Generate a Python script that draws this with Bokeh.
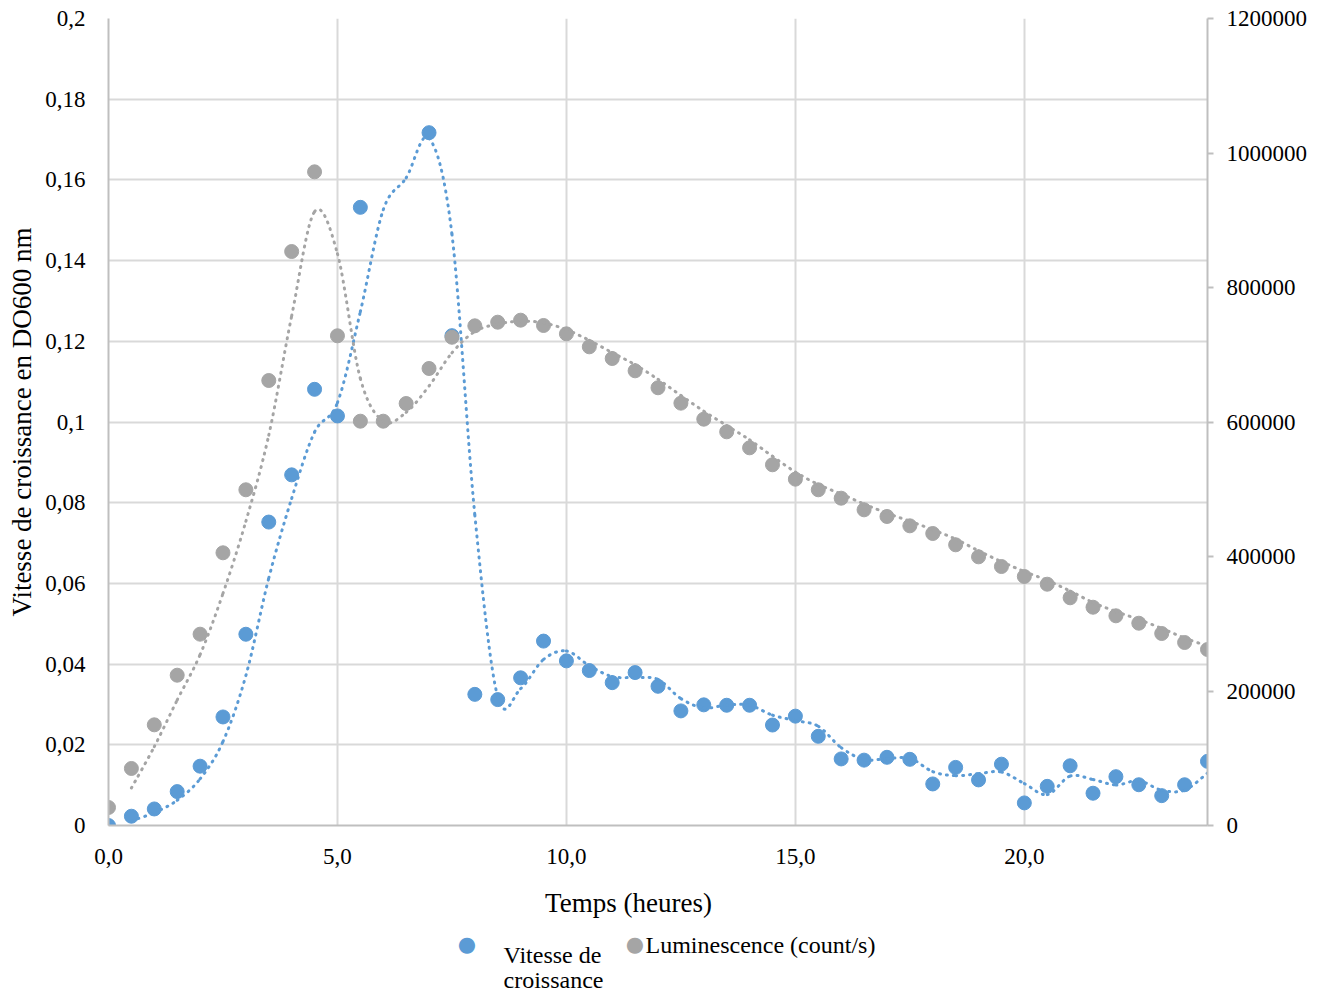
import pandas as pd
from bokeh.plotting import figure
from bokeh.models import Range1d, LinearAxis, FixedTicker
from bokeh.core.properties import value
from bokeh.embed import file_html
from bokeh.resources import INLINE

# ---------------- data ----------------
time_h = [0.0, 0.5, 1.0, 1.5, 2.0, 2.5, 3.0, 3.5, 4.0, 4.5, 5.0, 5.5, 6.0, 6.5, 7.0, 7.5,
          8.0, 8.5, 9.0, 9.5, 10.0, 10.5, 11.0, 11.5, 12.0, 12.5, 13.0, 13.5, 14.0, 14.5,
          15.0, 15.5, 16.0, 16.5, 17.0, 17.5, 18.0, 18.5, 19.0, 19.5, 20.0, 20.5, 21.0,
          21.5, 22.0, 22.5, 23.0, 23.5, 24.0]

growth_rate = [0.0000, 0.0023, 0.0041, 0.0084, 0.0147, 0.0269, 0.0474, 0.0752, 0.0869,
               0.1081, 0.1015, 0.1532, 0.1520, 0.1690, 0.1717, 0.1214, 0.0325, 0.0312,
               0.0366, 0.0457, 0.0408, 0.0384, 0.0354, 0.0379, 0.0345, 0.0284, 0.0299,
               0.0298, 0.0298, 0.0249, 0.0271, 0.0221, 0.0165, 0.0162, 0.0169, 0.0164,
               0.0103, 0.0144, 0.0113, 0.0152, 0.0056, 0.0097, 0.0148, 0.0080, 0.0121,
               0.0101, 0.0074, 0.0101, 0.0159]
# points present in the series but without a visible marker in the original
growth_hidden_markers = [6.0, 6.5]

luminescence = [26800, 84800, 149700, 223500, 284500, 405500, 499200, 661700, 853500,
                972000, 728200, 601200, 601200, 627500, 679600, 726000, 743000, 748400,
                751400, 743500, 731100, 711800, 694400, 676100, 650900, 628000, 604200,
                585400, 561600, 536400, 515000, 499200, 486700, 469400, 459500, 445600,
                434200, 417400, 399500, 385100, 370300, 358800, 338600, 324600, 311800,
                300800, 285500, 272100, 261700]

x_ticks = [0, 5, 10, 15, 20]
x_tick_labels = ["0,0", "5,0", "10,0", "15,0", "20,0"]
left_ticks = [0, 0.02, 0.04, 0.06, 0.08, 0.1, 0.12, 0.14, 0.16, 0.18, 0.2]
left_tick_labels = ["0", "0,02", "0,04", "0,06", "0,08", "0,1", "0,12", "0,14", "0,16",
                    "0,18", "0,2"]
right_ticks = [0, 200000, 400000, 600000, 800000, 1000000, 1200000]
right_tick_labels = ["0", "200000", "400000", "600000", "800000", "1000000", "1200000"]

x_title = "Temps (heures)"
y_title = "Vitesse de croissance en DO600 nm"
legend_line1 = "Vitesse de"
legend_line2 = "croissance"
legend_gray = "Luminescence (count/s)"

BLUE = "#5B9BD5"
GRAY = "#A5A5A5"
FONT = "Liberation Serif"

# ---------------- figure ----------------
X0, X1, Y0, Y1 = 0, 24, 0, 0.2
FIG_W, FIG_H = 1322, 994
BORDER_L, BORDER_T, BORDER_R, BORDER_B = 108, 18, 115, 169
FRAME_W = FIG_W - BORDER_L - BORDER_R
FRAME_H = FIG_H - BORDER_T - BORDER_B
p = figure(width=FIG_W, height=FIG_H, x_range=Range1d(X0, X1), y_range=Range1d(Y0, Y1),
           output_backend="svg", toolbar_location=None,
           min_border_left=BORDER_L, min_border_right=BORDER_R,
           min_border_top=BORDER_T, min_border_bottom=BORDER_B)
p.extra_y_ranges = {"lum": Range1d(0, 1200000)}
p.outline_line_color = None
p.background_fill_color = "white"
p.border_fill_color = "white"

# grids
p.xgrid.ticker = FixedTicker(ticks=x_ticks)
p.ygrid.ticker = FixedTicker(ticks=left_ticks)
p.xgrid.grid_line_color = "#D9D9D9"
p.ygrid.grid_line_color = "#D9D9D9"
p.xgrid.grid_line_width = 2
p.ygrid.grid_line_width = 2

AX_COL = "#BFBFBF"
xa = p.xaxis[0]
xa.ticker = FixedTicker(ticks=x_ticks)
xa.major_label_overrides = dict(zip(x_ticks, x_tick_labels))
ya = p.yaxis[0]
ya.ticker = FixedTicker(ticks=left_ticks)
ya.major_label_overrides = dict(zip(left_ticks, left_tick_labels))
ya.axis_label = y_title
ra = LinearAxis(y_range_name="lum", ticker=FixedTicker(ticks=right_ticks))
ra.major_label_overrides = dict(zip(right_ticks, right_tick_labels))
p.add_layout(ra, "right")

for ax in (xa, ya, ra):
    ax.axis_line_color = AX_COL
    ax.axis_line_width = 2
    ax.major_tick_line_color = AX_COL
    ax.major_tick_line_width = 2
    ax.major_tick_in = 0
    ax.major_tick_out = 0
    ax.minor_tick_line_color = None
    ax.major_label_text_font = FONT
    ax.major_label_text_font_size = "23px"
    ax.major_label_text_color = "black"
    ax.axis_label_text_font = FONT
    ax.axis_label_text_font_size = "27px"
    ax.axis_label_text_font_style = "normal"
    ax.axis_label_text_color = "black"
ra.major_tick_out = 6
ra.major_label_standoff = 13
ya.major_label_standoff = 23
ya.axis_label_standoff = 5
xa.major_label_standoff = 23

# ---------------- marks ----------------
df = pd.DataFrame({"t": time_h, "g": growth_rate, "l": luminescence})
shown = df[~df["t"].isin(growth_hidden_markers)]

blue_pts = p.scatter(shown["t"], shown["g"], size=14, color=BLUE, line_color=BLUE)
gray_pts = p.scatter(df["t"], df["l"], size=14, color=GRAY, line_color=GRAY,
                     y_range_name="lum")

# 2-period moving average trendlines, drawn as smoothed curves
def smooth(xs, ys):
    xs, ys = list(xs), list(ys)
    n = len(xs)
    out = {k: [] for k in ("x0", "y0", "x1", "y1", "cx0", "cy0", "cx1", "cy1")}
    for i in range(n - 1):
        a = max(i - 1, 0)
        b = min(i + 2, n - 1)
        out["x0"].append(xs[i]); out["y0"].append(ys[i])
        out["x1"].append(xs[i + 1]); out["y1"].append(ys[i + 1])
        out["cx0"].append(xs[i] + (xs[i + 1] - xs[a]) / 6)
        out["cy0"].append(ys[i] + (ys[i + 1] - ys[a]) / 6)
        out["cx1"].append(xs[i + 1] - (xs[b] - xs[i]) / 6)
        out["cy1"].append(ys[i + 1] - (ys[b] - ys[i]) / 6)
    return out

ma_g = df["g"].rolling(2).mean()
ma_l = df["l"].rolling(2).mean()
p.bezier(**smooth(df["t"][1:], ma_g[1:]), line_color=BLUE, line_width=3,
         line_dash="1 6", line_cap="round")
p.bezier(**smooth(df["t"][1:], ma_l[1:]), line_color=GRAY, line_width=3,
         line_dash="1 6", line_cap="round", y_range_name="lum")

# ---------------- x title and legend (drawn below the frame, unclipped) ----------------
# positions given in pixels relative to the frame's bottom-left corner
def px_x(dx):
    return X0 + dx * (X1 - X0) / FRAME_W

def px_y(dy):
    return Y0 + dy * (Y1 - Y0) / FRAME_H

p.text([px_x(520)], [px_y(-77)], text=[x_title],
       text_font=value(FONT), text_font_size="27px", text_color="black",
       text_baseline="alphabetic", text_align="center", level="overlay")
p.text([px_x(358.5), px_x(526.5)], [px_y(-118), px_y(-118)], text=["\u25CF", "\u25CF"],
       text_font=value("DejaVu Sans"), text_font_size="21px", text_color=[BLUE, GRAY],
       text_baseline="middle", text_align="center", level="overlay")
p.text([px_x(395), px_x(395), px_x(537)], [px_y(-129), px_y(-154), px_y(-119)],
       text=[legend_line1, legend_line2, legend_gray],
       text_font=value(FONT), text_font_size="24px", text_color="black",
       text_baseline="alphabetic", text_align="left", level="overlay")

open("out.html", "w").write(file_html(p, INLINE))
